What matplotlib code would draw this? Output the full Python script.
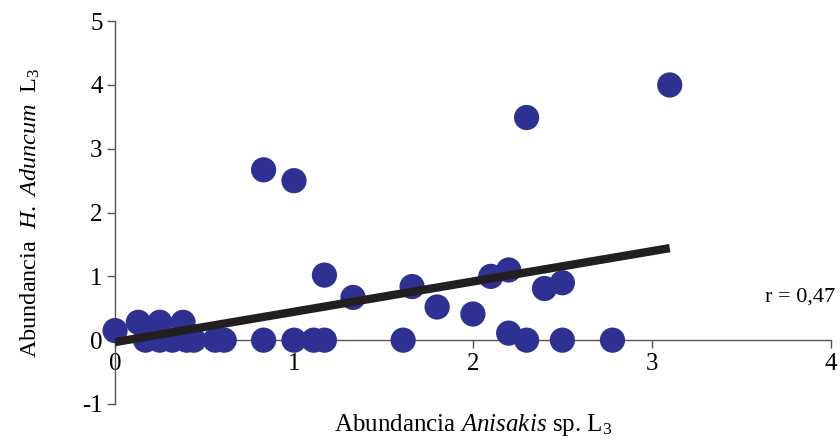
import numpy as np
import matplotlib
matplotlib.use("Agg")
import matplotlib.pyplot as plt

plt.rcParams["font.family"] = ["Liberation Serif", "DejaVu Serif"]
plt.rcParams["mathtext.fontset"] = "custom"
plt.rcParams["mathtext.rm"] = "Liberation Serif"
plt.rcParams["mathtext.it"] = "Liberation Serif:italic"
plt.rcParams["axes.unicode_minus"] = False

# abundancia Anisakis sp. L3 (x) vs H. aduncum L3 (y)
anisakis = [0.0, 0.13, 0.25, 0.38,
            0.17, 0.25, 0.32, 0.40, 0.44, 0.56, 0.61, 0.83, 1.00, 1.11, 1.17,
            1.17, 1.33, 1.61, 1.66, 1.80, 2.00, 2.10, 2.20, 2.20, 2.30,
            2.40, 2.50, 2.50, 2.78, 0.83, 1.00, 2.30, 3.10]
aduncum = [0.15, 0.28, 0.28, 0.28,
           0, 0, 0, 0, 0, 0, 0, 0, 0, 0, 0,
           1.02, 0.67, 0, 0.84, 0.52, 0.41, 1.00, 1.10, 0.11, 0,
           0.81, 0.90, 0, 0, 2.67, 2.50, 3.49, 4.00]

# recta de tendencia
pendiente = 0.475
ordenada = -0.03
r_txt = "r = 0,47"

fs = 18

fig = plt.figure(figsize=(8.4, 4.41), dpi=100)
ax = fig.add_axes([0.137, 0.084, 0.852, 0.868])

ax.scatter(anisakis, aduncum, s=330, color="#2E3192", edgecolors="none",
           zorder=3, clip_on=False)

xs = np.array([0.0, max(anisakis)])
ax.plot(xs, pendiente * xs + ordenada, color="#231F20", lw=6,
        solid_capstyle="butt", zorder=4)

ax.text(3.63, 0.67, r_txt, fontsize=16, va="center", ha="left")

ax.set_xlim(0, 4)
ax.set_ylim(-1, 5)
ax.set_xticks([0, 1, 2, 3, 4])
ax.set_yticks([-1, 0, 1, 2, 3, 4, 5])

ax.spines["top"].set_visible(False)
ax.spines["right"].set_visible(False)
ax.spines["bottom"].set_position(("data", 0))
for s in ("left", "bottom"):
    ax.spines[s].set_color("#555555")
    ax.spines[s].set_linewidth(1.0)

ax.tick_params(axis="both", direction="out", length=6, width=1.0,
               color="#555555", labelsize=fs)
ax.tick_params(axis="x", pad=3)
ax.tick_params(axis="y", pad=3)

ax.set_xlabel(r"Abundancia $\mathit{Anisakis}$ sp. L$_3$", fontsize=fs,
              labelpad=0, va="center")
ax.xaxis.set_label_coords(0.5, -0.055)
ax.set_ylabel(r"Abundancia  $\mathit{H.\ Aduncum}$  L$_3$", fontsize=17.5,
              va="center")
ax.yaxis.set_label_coords(-0.118, 0.5)

fig.savefig("out.png", dpi=100)
